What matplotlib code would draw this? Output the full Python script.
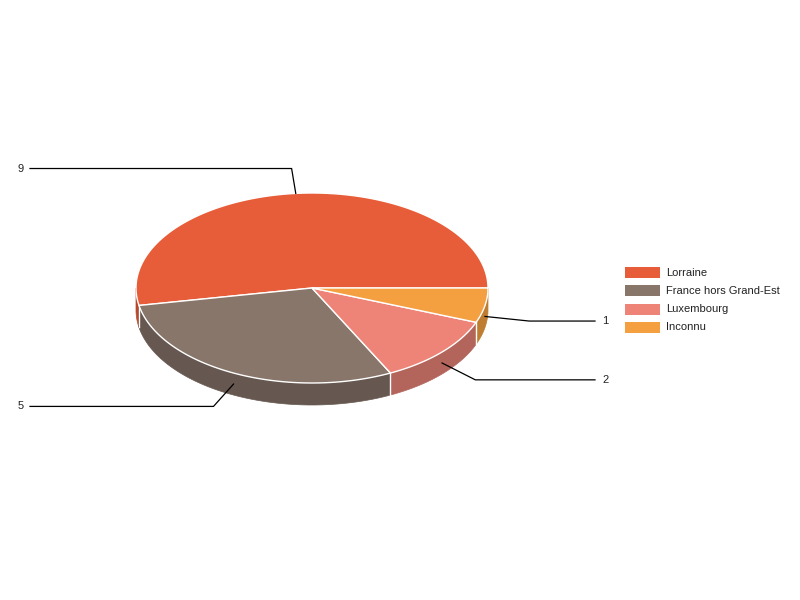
import numpy as np
import matplotlib.pyplot as plt
from matplotlib.patches import Polygon

plt.rcParams['font.family'] = ['Liberation Sans', 'DejaVu Sans']

labels = ['Lorraine', 'France hors Grand-Est', 'Luxembourg', 'Inconnu']
values = [9, 5, 2, 1]
colors = ['#E85D39', '#88766A', '#EE8477', '#F4A040']
side_colors = ['#B9482B', '#665850', '#B3655C', '#BF7D32']

# pie geometry in pixels
cx, cy = 312, 288
rx, ry = 176, 95
depth = 22


def pt(theta, dz=0.0, ex=0.0, ey=0.0):
    t = np.radians(theta)
    return cx + (rx + ex) * np.cos(t), cy - (ry + ey) * np.sin(t) + dz


fig = plt.figure(figsize=(8, 6), dpi=100)
ax = fig.add_axes([0, 0, 1, 1])
ax.set_xlim(0, 800)
ax.set_ylim(600, 0)
ax.axis('off')

fracs = np.array(values) / sum(values)
bounds = np.concatenate([[0], np.cumsum(fracs) * 360])

# side walls (front half only)
for i in range(len(values)):
    a, b = max(bounds[i], 180), min(bounds[i + 1], 360)
    if a >= b:
        continue
    th = np.linspace(a, b, 80)
    top = [pt(t) for t in th]
    bot = [pt(t, depth) for t in th[::-1]]
    ax.add_patch(Polygon(top + bot, closed=True, facecolor=side_colors[i],
                         edgecolor=side_colors[i], lw=0.5, zorder=1))
for b in bounds[1:-1]:
    if 180 < b < 360:
        x0, y0 = pt(b)
        ax.plot([x0, x0], [y0, y0 + depth], color='white', lw=1, zorder=2)

# top face
for i in range(len(values)):
    th = np.linspace(bounds[i], bounds[i + 1], 120)
    poly = [(cx, cy)] + [pt(t) for t in th]
    ax.add_patch(Polygon(poly, closed=True, facecolor=colors[i],
                         edgecolor='white', lw=1, zorder=3))

# leader lines and value labels
for i, v in enumerate(values):
    mid = (bounds[i] + bounds[i + 1]) / 2
    front = np.sin(np.radians(mid)) < 0
    dz = depth / 2 if front else 0
    x0, y0 = pt(mid, dz)
    x1, y1 = pt(mid, dz, 45, 25)
    if np.cos(np.radians(mid)) < 0:
        x2, tx, ha = 30, 24, 'right'
    else:
        x2, tx, ha = 595, 602, 'left'
    ax.plot([x0, x1, x2], [y0, y1, y1], color='black', lw=0.9, zorder=4)
    ax.text(tx, y1, str(v), ha=ha, va='center', fontsize=8, color='#222222')

# legend
for i, lab in enumerate(labels):
    ly = 272.5 + i * 18.3
    ax.add_patch(Polygon([(625, ly - 5.5), (660, ly - 5.5), (660, ly + 5.5), (625, ly + 5.5)],
                         closed=True, facecolor=colors[i], edgecolor='none'))
    ax.text(666, ly, lab, ha='left', va='center', fontsize=8, color='#222222')

fig.savefig('out.png', dpi=100)
